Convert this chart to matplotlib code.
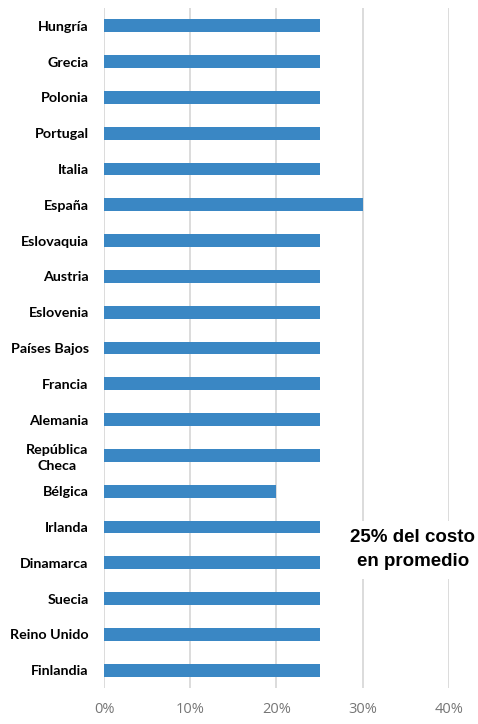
import matplotlib.pyplot as plt
from matplotlib.ticker import PercentFormatter

countries = ["Hungría", "Grecia", "Polonia", "Portugal", "Italia", "España",
             "Eslovaquia", "Austria", "Eslovenia", "Países Bajos", "Francia",
             "Alemania", "República\nCheca", "Bélgica", "Irlanda", "Dinamarca",
             "Suecia", "Reino Unido", "Finlandia"]
shares = [0.25, 0.25, 0.25, 0.25, 0.25, 0.30, 0.25, 0.25, 0.25, 0.25, 0.25,
          0.25, 0.25, 0.20, 0.25, 0.25, 0.25, 0.25, 0.25]
xticks = [0, 0.1, 0.2, 0.3, 0.4]
note = "25% del costo\nen promedio"

fig = plt.figure(figsize=(4.78, 7.24), dpi=100)
ax = fig.add_axes([0.2176, 0.0497, 0.7217, 0.9393])

ypos = list(range(len(countries)))
ax.barh(ypos, shares, height=0.36, color="#3a87c4", zorder=3)
ax.set_ylim(len(countries) - 0.5, -0.5)
ax.set_xlim(0, 0.4)
ax.set_xticks(xticks)
ax.xaxis.set_major_formatter(PercentFormatter(1.0, decimals=0))
ax.set_yticks(ypos)
ax.set_yticklabels(countries, fontsize=10.3, fontweight="bold",
                   family=["Lato", "DejaVu Sans"], ha="right",
                   multialignment="center", linespacing=1.35)
ax.tick_params(axis="y", length=0, pad=11)
ax.tick_params(axis="x", length=0, pad=10, labelsize=10.5, labelcolor="#767676")
for lab in ax.get_xticklabels():
    lab.set_family(["Open Sans", "DejaVu Sans"])

ax.grid(axis="x", color="#d9d9d9", linewidth=1.3, zorder=0)
for s in ax.spines.values():
    s.set_visible(False)

ax.text(0.358, 14.64, note, ha="center", va="center", fontsize=13.5,
        fontweight="bold", family=["Liberation Sans Narrow", "Liberation Sans", "DejaVu Sans"],
        linespacing=1.55, zorder=4,
        bbox=dict(facecolor="white", edgecolor="none", pad=6))

fig.savefig("out.png", dpi=100)
